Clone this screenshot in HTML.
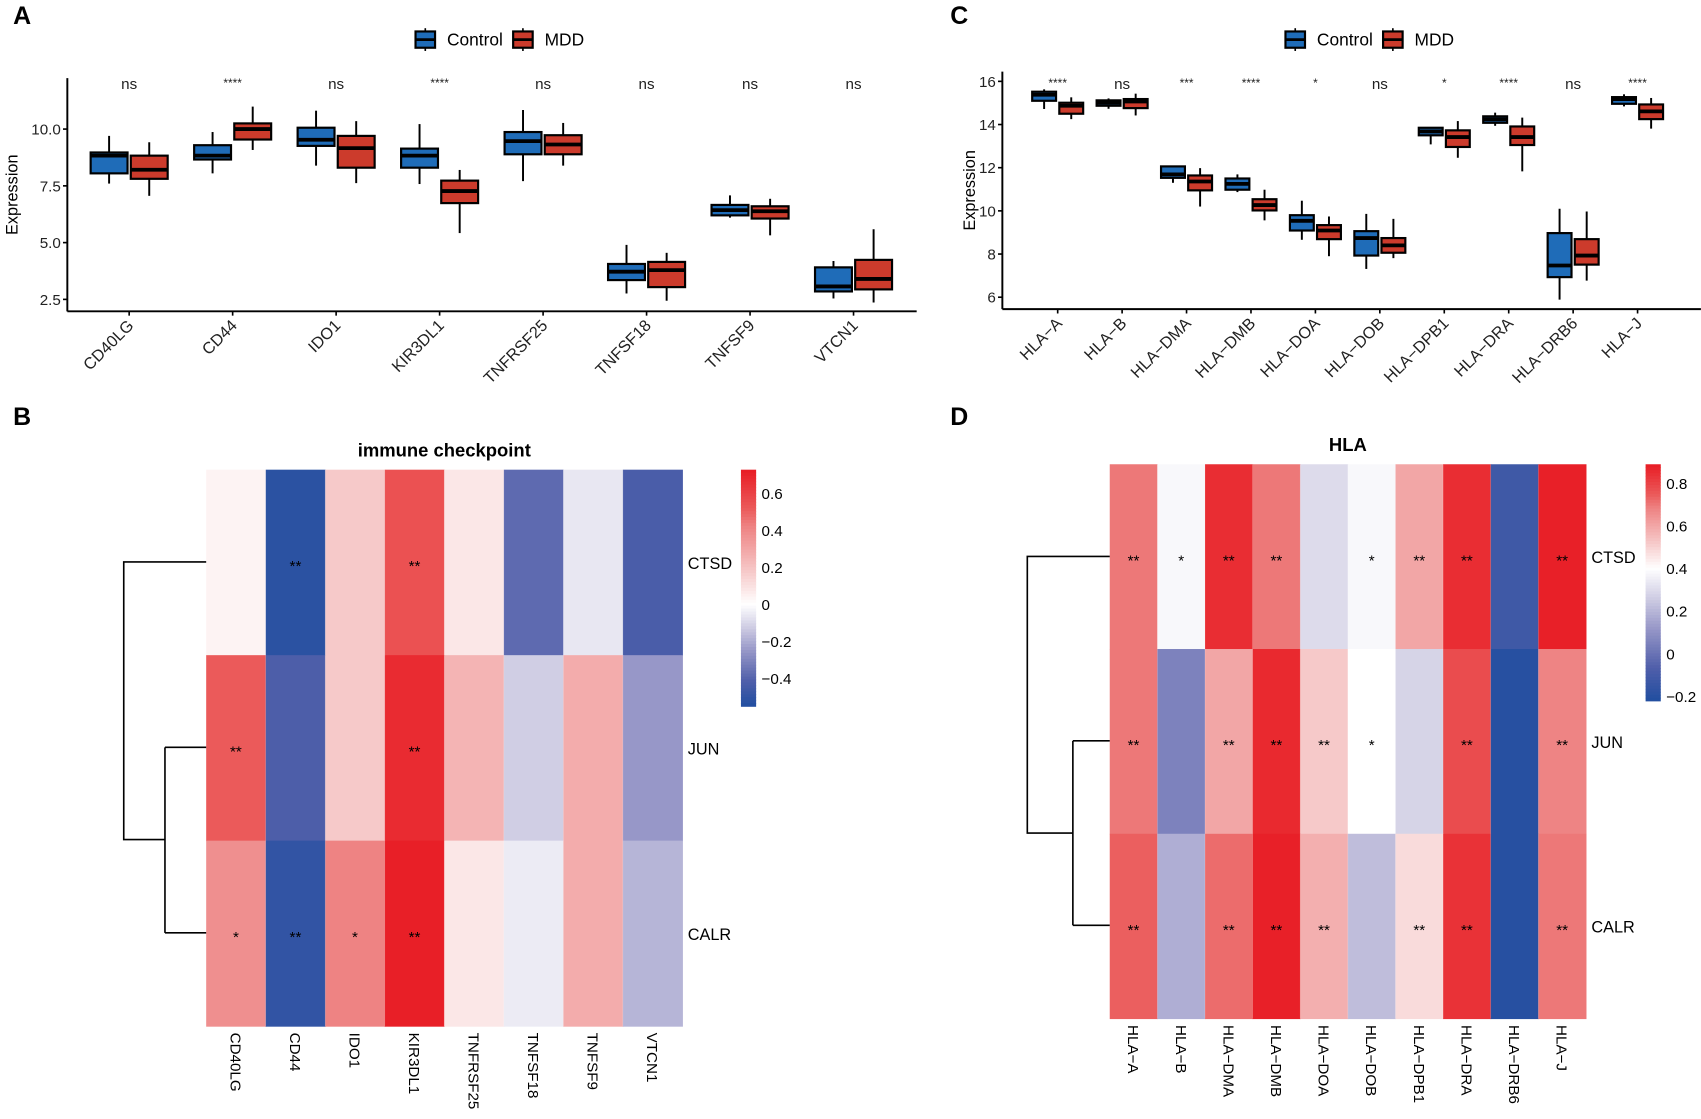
<!DOCTYPE html>
<html><head><meta charset="utf-8"><style>
html,body{margin:0;padding:0;background:#fff;}
svg text{font-family:"Liberation Sans",Arial,sans-serif;}
</style></head><body>
<svg id="fig" xmlns="http://www.w3.org/2000/svg" width="1701" height="1114" viewBox="0 0 1568 1027">
<g id="root"></g>
</svg>
<script>
// ---------- Panel A data ----------
const catsA = ["CD40LG","CD44","IDO1","KIR3DL1","TNFRSF25","TNFSF18","TNFSF9","VTCN1"];
const sigA = ["ns","****","ns","****","ns","ns","ns","ns"];
// [whiskerHigh, q3, median, q1, whiskerLow]
const ctrlA = [[9.7,8.97,8.83,8.05,7.6],[9.87,9.29,8.83,8.66,8.05],[10.81,10.06,9.53,9.26,8.39],[10.22,9.14,8.83,8.30,7.58],[10.84,9.87,9.47,8.89,7.71],[4.9,4.06,3.72,3.35,2.76],[7.08,6.66,6.43,6.2,6.1],[4.19,3.91,3.07,2.85,2.54]];
const mddA = [[9.42,8.83,8.21,7.81,7.06],[10.99,10.25,10.0,9.54,9.08],[10.35,9.70,9.16,8.30,7.62],[8.2,7.73,7.27,6.74,5.42],[10.27,9.73,9.32,8.89,8.39],[4.55,4.15,3.79,3.04,2.44],[6.93,6.6,6.38,6.06,5.32],[5.59,4.24,3.4,2.94,2.36]];
const ticksA = [2.5,5.0,7.5,10.0];
// ---------- Panel C data ----------
const catsC = ["HLA\u2212A","HLA\u2212B","HLA\u2212DMA","HLA\u2212DMB","HLA\u2212DOA","HLA\u2212DOB","HLA\u2212DPB1","HLA\u2212DRA","HLA\u2212DRB6","HLA\u2212J"];
const sigC = ["****","ns","***","****","*","ns","*","****","ns","****"];
const ctrlC = [[15.63,15.52,15.38,15.10,14.72],[15.21,15.12,15.01,14.87,14.73],[12.09,12.06,11.69,11.53,11.3],[11.69,11.5,11.25,10.98,10.87],[10.47,9.8,9.54,9.09,8.66],[9.86,9.06,8.74,7.93,7.31],[13.88,13.85,13.68,13.5,13.08],[14.55,14.38,14.24,14.08,13.94],[10.1,8.97,7.47,6.93,5.89],[15.4,15.27,15.18,14.96,14.84]];
const mddC = [[15.26,15.01,14.87,14.5,14.25],[15.43,15.18,15.07,14.76,14.42],[11.98,11.64,11.36,10.95,10.2],[10.98,10.54,10.27,10.02,9.56],[9.74,9.34,9.09,8.69,7.9],[9.63,8.74,8.4,8.06,7.81],[14.16,13.73,13.42,12.96,12.46],[14.32,13.91,13.42,13.05,11.83],[9.97,8.69,7.93,7.51,6.77],[15.23,14.93,14.61,14.25,13.81]];
const ticksC = [6,8,10,12,14,16];
// ---------- Panel B data ----------
const colsB = ["CD40LG","CD44","IDO1","KIR3DL1","TNFRSF25","TNFSF18","TNFSF9","VTCN1"];
const rowsB = ["CTSD","JUN","CALR"];
const valCTSD_B = [0.04,-0.52,0.18,0.55,0.08,-0.38,-0.06,-0.43];
const valJUN_B = [0.52,-0.42,0.18,0.68,0.25,-0.12,0.28,-0.25];
const valCALR_B = [0.38,-0.50,0.42,0.72,0.08,-0.05,0.28,-0.18];
const starCTSD_B = ["","**","","**","","","",""];
const starJUN_B = ["**","","","**","","","",""];
const starCALR_B = ["*","**","*","**","","","",""];
const cbTicksB = [-0.4,-0.2,0,0.2,0.4,0.6];
// ---------- Panel D data ----------
const colsD = ["HLA\u2212A","HLA\u2212B","HLA\u2212DMA","HLA\u2212DMB","HLA\u2212DOA","HLA\u2212DOB","HLA\u2212DPB1","HLA\u2212DRA","HLA\u2212DRB6","HLA\u2212J"];
const rowsD = ["CTSD","JUN","CALR"];
const valCTSD_D = [0.70,0.38,0.85,0.70,0.30,0.38,0.60,0.85,-0.12,0.88];
const valJUN_D = [0.70,0.05,0.60,0.86,0.52,0.40,0.28,0.78,-0.20,0.68];
const valCALR_D = [0.74,0.18,0.72,0.88,0.58,0.22,0.48,0.84,-0.20,0.70];
const starCTSD_D = ["**","*","**","**","","*","**","**","","**"];
const starJUN_D = ["**","","**","**","**","*","","**","","**"];
const starCALR_D = ["**","","**","**","**","","**","**","","**"];
const cbTicksD = [-0.2,0,0.2,0.4,0.6,0.8];

const NS="http://www.w3.org/2000/svg";
const root=document.getElementById('root');
function mk(tag,attrs,parent,text){const e=document.createElementNS(NS,tag);for(const k in attrs)e.setAttribute(k,attrs[k]);if(text!==undefined)e.textContent=text;(parent||root).appendChild(e);return e;}

[["A",12,22],["B",12,392],["C",876,22],["D",876,392]].forEach(p=>{
  const t=mk('text',{x:p[1],y:p[2],'font-size':23,'font-weight':'bold'},root,p[0]);
  
  
});

const BLUE="#1f6cb8", RED="#cc3b2c";

function legend(x0,name){
  const g=mk('g',{});
  
  
  [[x0,BLUE,"Control"],[x0+90,RED,"MDD"]].forEach(l=>{
    const it=mk('g',{},g);
    
    
    mk('line',{x1:l[0]+9,x2:l[0]+9,y1:26,y2:47,stroke:'#000','stroke-width':1.5},it);
    mk('rect',{x:l[0],y:29,width:18,height:15,fill:l[1],stroke:'#000','stroke-width':2},it);
    mk('line',{x1:l[0],x2:l[0]+18,y1:36.5,y2:36.5,stroke:'#000','stroke-width':2.5},it);
    mk('text',{x:l[0]+29,y:42,'font-size':16},it,l[2]);
  });
}

function boxPanel(o){
  const g=mk('g',{});
  
  
  const y=v=>o.y0+(v-o.v0)*(o.y1-o.y0)/(o.v1-o.v0);
  const x=i=>o.xc0+i*o.dx;
  const ax=mk('line',{x1:o.xl,x2:o.xl,y1:o.yTop,y2:o.yAx,stroke:'#000','stroke-width':1.8},g);
  
  const bx=mk('line',{x1:o.xl,x2:o.xr,y1:o.yAx,y2:o.yAx,stroke:'#000','stroke-width':1.8},g);
  
  o.ticks.forEach(t=>{
    mk('line',{x1:o.xl-4,x2:o.xl,y1:y(t),y2:y(t),stroke:'#000','stroke-width':1.5},g);
    const tl=mk('text',{x:o.xl-6,y:y(t)+5,'font-size':14,'text-anchor':'end',fill:'#222'},g,o.fmt(t));
    
    
  });
  const yt=mk('text',{x:0,y:0,'font-size':15,'text-anchor':'middle',transform:`translate(${o.ytx},${(o.yTop+o.yAx)/2}) rotate(-90)`},g,"Expression");
  
  
  o.cats.forEach((c,i)=>{
    const cx=x(i);
    mk('line',{x1:cx,x2:cx,y1:o.yAx,y2:o.yAx+4,stroke:'#000','stroke-width':1.5},g);
    const lab=mk('text',{x:0,y:0,'font-size':15,'text-anchor':'end',fill:'#222',transform:`translate(${cx+5},${o.yAx+14}) rotate(-45)`},g,c);
    
    
    const s=o.sig[i];
    const st=mk('text',{x:cx,y:s==="ns"?82:80,'font-size':s==="ns"?14:11,'text-anchor':'middle',fill:'#222'},g,s);
    
    
    [[o.ctrl[i],-o.off,BLUE,'control'],[o.mdd[i],o.off,RED,'mdd']].forEach(b=>{
      const d=b[0],bc=cx+b[1],w=o.bw;
      const bg=mk('g',{},g);
      
      
      mk('line',{x1:bc,x2:bc,y1:y(d[0]),y2:y(d[4]),stroke:'#000','stroke-width':1.8},bg);
      mk('rect',{x:bc-w/2,y:y(d[1]),width:w,height:Math.max(1,y(d[3])-y(d[1])),fill:b[2],stroke:'#000','stroke-width':2},bg);
      mk('line',{x1:bc-w/2,x2:bc+w/2,y1:y(d[2]),y2:y(d[2]),stroke:'#000','stroke-width':3.5},bg);
    });
  });
}

boxPanel({name:'boxplot-immune-checkpoint',cats:catsA,sig:sigA,ctrl:ctrlA,mdd:mddA,ticks:ticksA,fmt:t=>t.toFixed(1),
  v0:10,y0:119,v1:2.5,y1:276,xl:62,xr:845,yTop:72,yAx:287,xc0:119,dx:95.4,off:18.5,bw:34,ytx:16});
boxPanel({name:'boxplot-hla',cats:catsC,sig:sigC,ctrl:ctrlC,mdd:mddC,ticks:ticksC,fmt:t=>String(t),
  v0:16,y0:75,v1:6,y1:274,xl:924,xr:1568,yTop:66,yAx:285,xc0:975,dx:59.4,off:12.5,bw:22,ytx:919-20});
legend(383,'legend-a');
legend(1185,'legend-c');

function lerp(a,b,t){return a.map((v,i)=>Math.round(v+(b[i]-v)*t));}
function ramp(stops,t){
  t=Math.max(0,Math.min(1,t));
  for(let i=1;i<stops.length;i++){ if(t<=stops[i][0]){const a=stops[i-1],b=stops[i];return lerp(a[1],b[1],(t-a[0])/(b[0]-a[0]));}}
  return stops[stops.length-1][1];
}
const blueStops=[[0,[33,78,160]],[0.25,[80,95,170]],[0.55,[152,152,200]],[0.78,[208,206,228]],[1,[255,255,255]]];
const redStops=[[0,[255,255,255]],[0.25,[246,200,200]],[0.58,[238,130,130]],[0.71,[235,90,90]],[1,[232,28,36]]];
function colorFn(min,mid,max){
  return v=>{let c; if(v<=mid){c=ramp(blueStops,(v-min)/(mid-min));} else {c=ramp(redStops,(v-mid)/(max-mid));} return `rgb(${c[0]},${c[1]},${c[2]})`;};
}

function heat(o){
  const g=mk('g',{});
  
  
  const col=colorFn(o.min,o.mid,o.max);
  const cw=(o.x1-o.x0)/o.cols.length, rh=(o.y1-o.y0)/o.rows.length;
  const tt=mk('text',{x:(o.x0+o.x1)/2,y:o.y0-12,'font-size':17,'font-weight':'bold','text-anchor':'middle'},g,o.title);
  
  
  o.vals.forEach((row,r)=>{
    row.forEach((v,c)=>{
      const cell=mk('rect',{x:o.x0+c*cw,y:o.y0+r*rh,width:cw+0.5,height:rh+0.5,fill:col(v)},g);
      
      
      const s=o.stars[r][c];
      if(s){const st=mk('text',{x:o.x0+(c+0.5)*cw,y:o.y0+(r+0.5)*rh+8,'font-size':14,'text-anchor':'middle'},g,s);
        
        }
    });
    const rl=mk('text',{x:o.x1+5,y:o.y0+(r+0.5)*rh+6,'font-size':15},g,o.rows[r]);
    
    
  });
  for(let c=1;c<o.cols.length;c++) mk('line',{x1:o.x0+c*cw,x2:o.x0+c*cw,y1:o.y0,y2:o.y1,stroke:'rgba(255,255,255,0.25)','stroke-width':0.6},g);
  o.cols.forEach((c,i)=>{
    const cl=mk('text',{x:0,y:0,'font-size':14,transform:`translate(${o.x0+(i+0.5)*cw-5},${o.y1+6}) rotate(90)`},g,c);
    
    
  });
  const N=80, cbh=o.cb1-o.cb0;
  const cb=mk('g',{},g);
  
  
  for(let k=0;k<N;k++){
    const v=o.max-(k+0.5)/N*(o.max-o.min);
    mk('rect',{x:o.cbx,y:o.cb0+k*cbh/N,width:14,height:cbh/N+0.6,fill:col(v)},cb);
  }
  const yv=v=>o.cb0+(o.max-v)/(o.max-o.min)*cbh;
  o.cbTicks.forEach(t=>{
    const tl=mk('text',{x:o.cbx+19,y:yv(t)+5,'font-size':14},cb,t===0?"0":(t<0?"\u2212"+Math.abs(t):String(t)));
    
    
  });
  const d=mk('path',{d:o.dend,fill:'none',stroke:'#000','stroke-width':1.5},g);
  
  
}

heat({name:'heatmap-immune-checkpoint',title:'immune checkpoint',cols:colsB,rows:rowsB,
  vals:[valCTSD_B,valJUN_B,valCALR_B],stars:[starCTSD_B,starJUN_B,starCALR_B],
  x0:190,x1:629,y0:433,y1:946,min:-0.55,mid:0,max:0.73,cbx:683,cb0:433,cb1:651,cbTicks:cbTicksB,
  dend:"M190 518 H114 V774 H152 M152 689 V860 M152 689 H190 M152 860 H190"});
heat({name:'heatmap-hla',title:'HLA',cols:colsD,rows:rowsD,
  vals:[valCTSD_D,valJUN_D,valCALR_D],stars:[starCTSD_D,starJUN_D,starCALR_D],
  x0:1023,x1:1462,y0:428,y1:939,min:-0.22,mid:0.4,max:0.89,cbx:1517,cb0:428,cb1:646,cbTicks:cbTicksD,
  dend:"M1023 513 H947 V768 H989 M989 683 V853 M989 683 H1023 M989 853 H1023"});
</script>
</body></html>
